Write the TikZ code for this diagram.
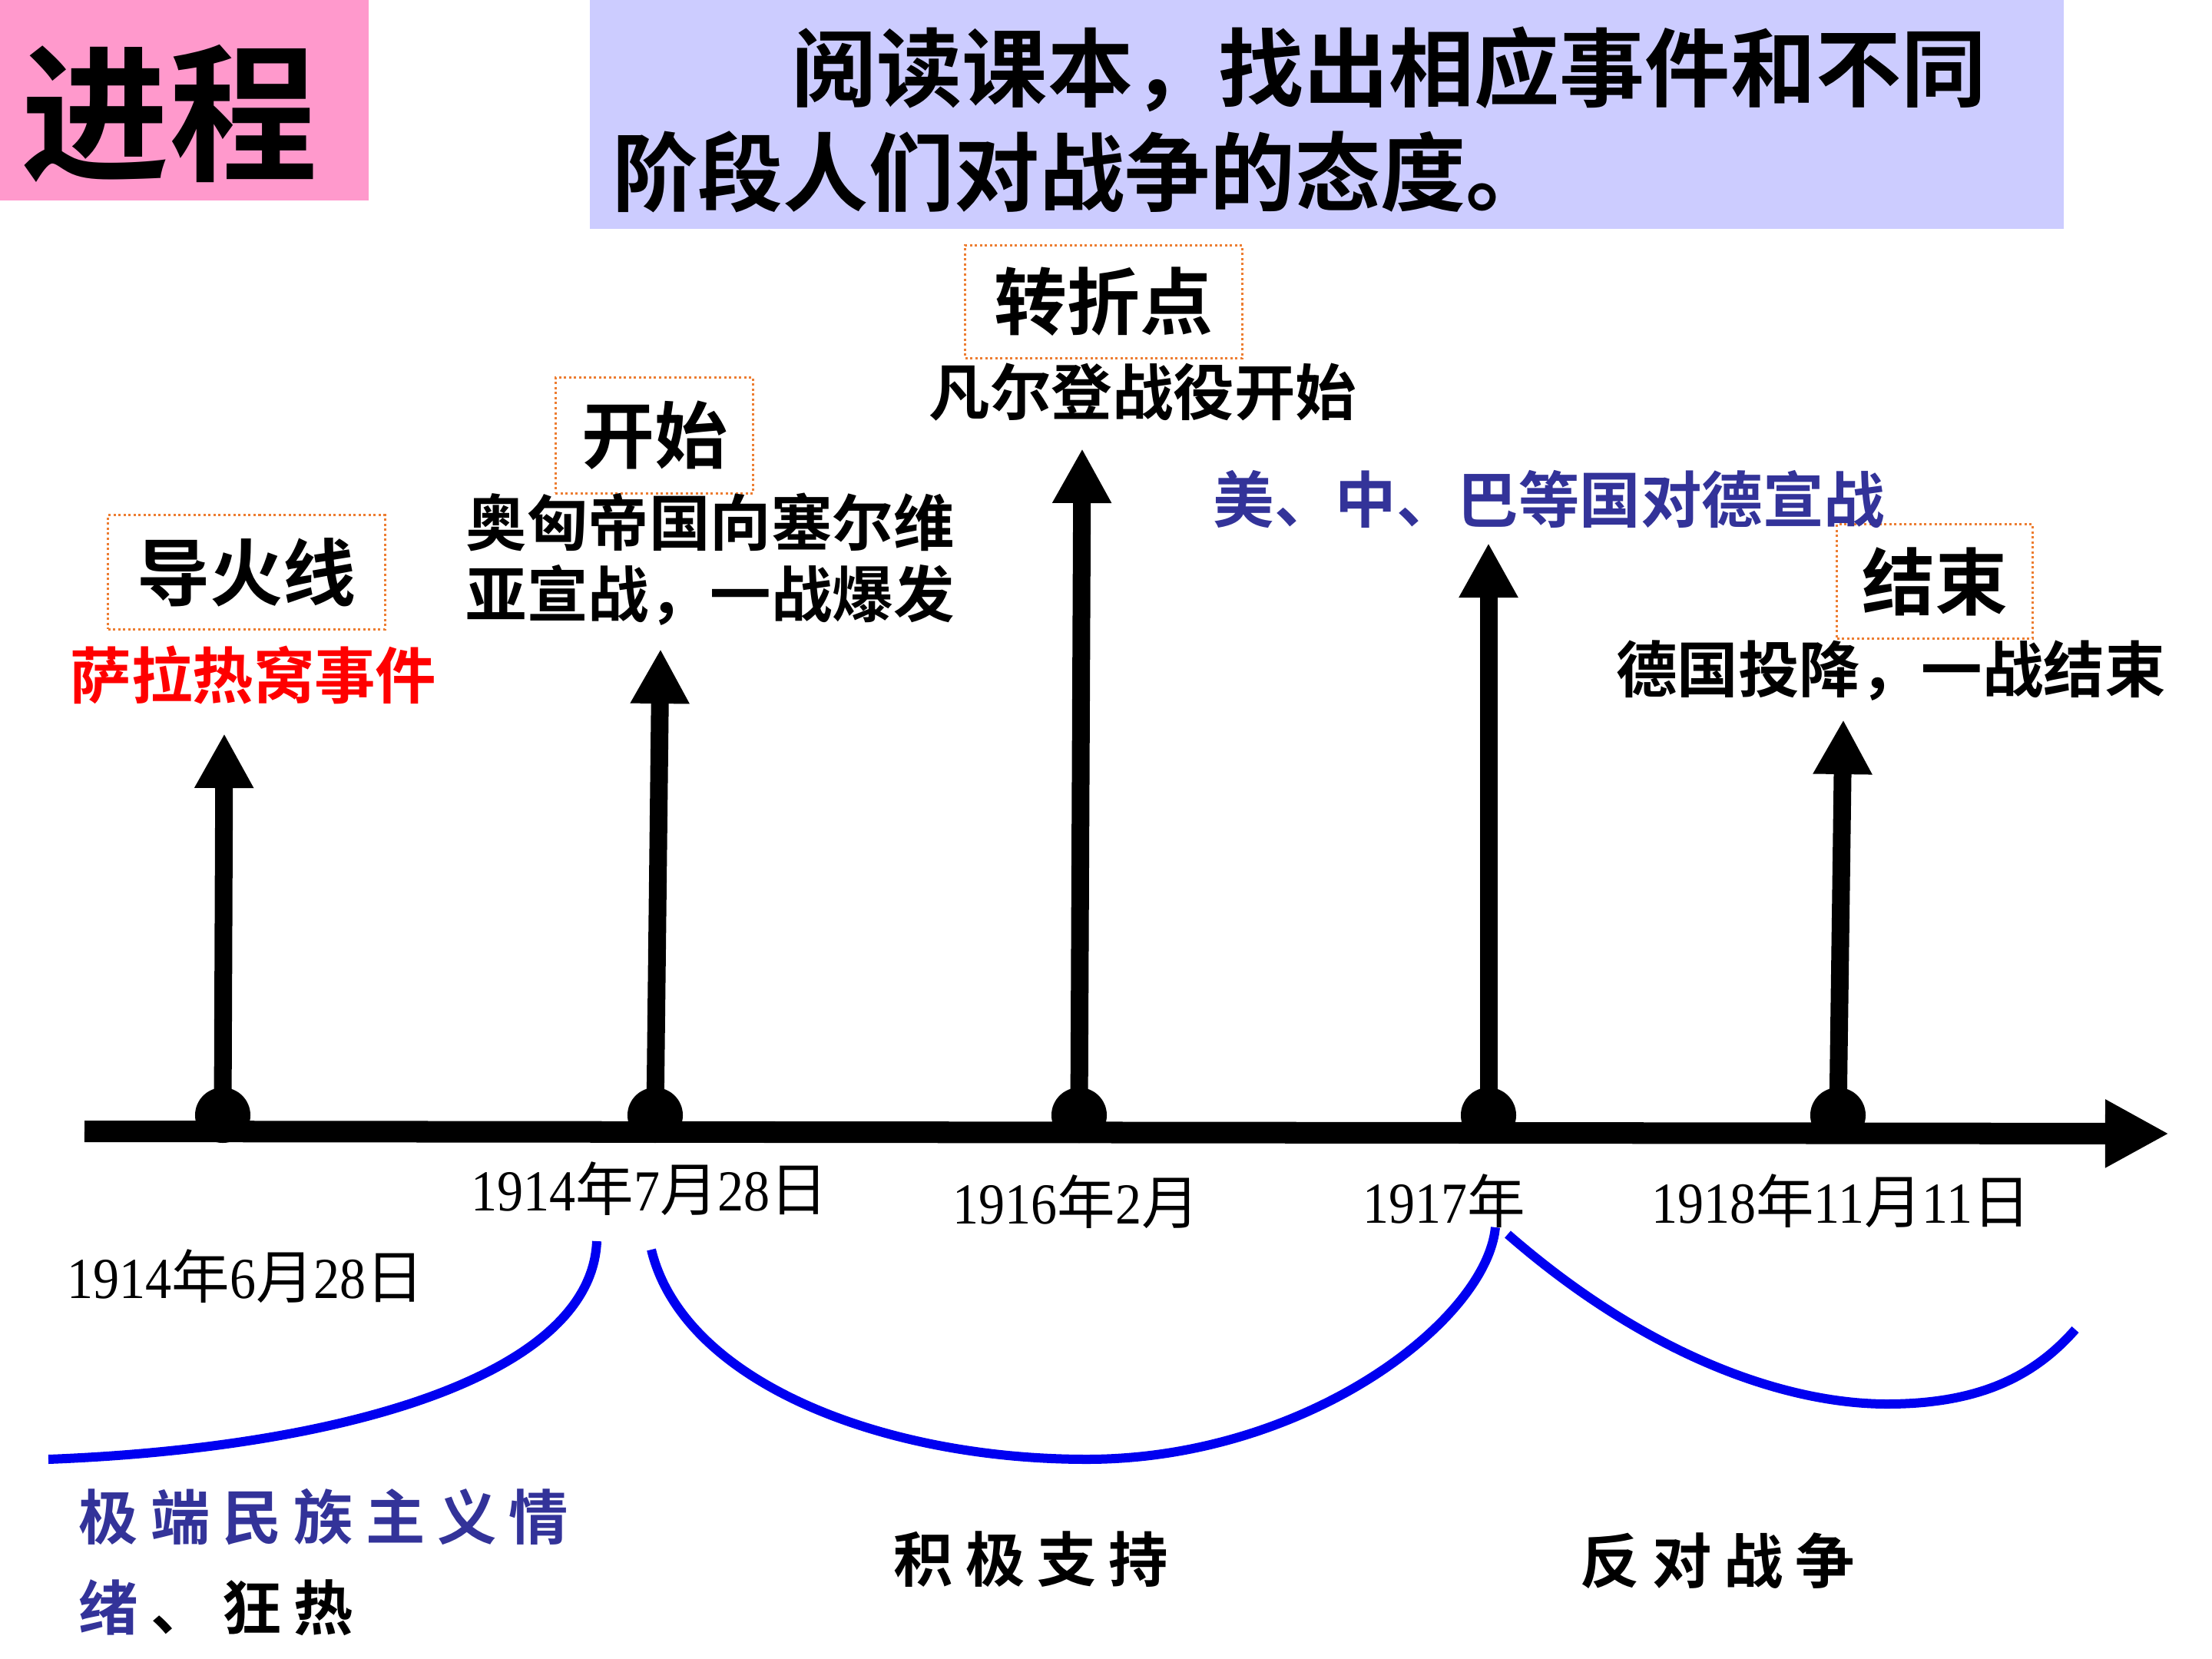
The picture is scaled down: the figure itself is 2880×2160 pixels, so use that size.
\documentclass[tikz,border=0pt]{standalone}
\usepackage{fontspec}
\setmainfont{Noto Sans CJK SC}[BoldFont=Noto Sans CJK SC Bold]
\newfontfamily\dnum{Liberation Serif}[FakeStretch=0.9]
\usetikzlibrary{arrows.meta}
\definecolor{pinkbg}{RGB}{255,153,204}
\definecolor{lavbg}{RGB}{204,204,255}
\definecolor{dotorange}{RGB}{237,125,49}
\definecolor{navy}{RGB}{51,51,153}
\definecolor{curveblue}{RGB}{0,0,240}
\newcommand\fs[1]{\fontsize{#1pt}{#1pt}\selectfont}
\newcommand\dd[1]{{\dnum #1}}
\newcommand\gp{\hspace{0.16cm}}
\begin{document}
\begin{tikzpicture}[x=0.01cm,y=-0.01cm,
  tagbox/.style={draw=dotorange, line width=0.03cm, dash pattern=on 0.03cm off 0.035cm, inner sep=0, font=\fs{27}\bfseries},
  ev/.style={inner sep=0, font=\fs{22.6}\bfseries},
  datelbl/.style={inner sep=0, font=\fs{21.5}},
  dot/.style={circle, fill=black, inner sep=0, minimum size=0.72cm},
  axisline/.style={line width=0.28cm, -{Triangle[length=0.83cm,width=0.83cm]}},
  varrow/.style={line width=0.23cm, -{Triangle[length=0.71cm,width=0.72cm]}},
  attitude/.style={line width=0.12cm, draw=curveblue},
  callig/.style={inner sep=0, font=\fs{22}\bfseries, anchor=west}
]
\useasboundingbox (0,0) rectangle (2880,2160);
\fill[white] (0,0) rectangle (2880,2160);

% header boxes
\fill[pinkbg] (0,0) rectangle (480,261);
\node[inner sep=0, font=\fs{55}\bfseries] (title) at (221,148) {进程};
\fill[lavbg] (768,0) rectangle (2687,298);
\node[anchor=west, inner sep=0, font=\fs{31.6}\bfseries] (q1) at (1030,90) {阅读课本，找出相应事件和不同};
\node[anchor=west, inner sep=0, font=\fs{31.6}\bfseries] (q2) at (797,224) {阶段人们对战争的态度。};

% timeline axis
\coordinate (ax0) at (110,1473);
\coordinate (ax1) at (2824,1476);
\draw[axisline] (ax0) -- (ax1);

% points on axis
\node[dot] (p1) at (290,1452) {};
\node[dot] (p2) at (853,1452) {};
\node[dot] (p3) at (1405,1452) {};
\node[dot] (p4) at (1938,1452) {};
\node[dot] (p5) at (2393,1452) {};
\coordinate (t1) at (292,955);
\coordinate (t2) at (860,845);
\coordinate (t3) at (1409,584);
\coordinate (t4) at (1938,707);
\coordinate (t5) at (2400,937);
\draw[varrow] (p1.center) -- (t1);
\draw[varrow] (p2.center) -- (t2);
\draw[varrow] (p3.center) -- (t3);
\draw[varrow] (p4.center) -- (t4);
\draw[varrow] (p5.center) -- (t5);

% tag boxes
\node[tagbox, minimum width=3.6cm, minimum height=1.48cm] (fuse) at (321,745) {导火线\hspace{0.18cm}};
\node[tagbox, minimum width=2.57cm, minimum height=1.5cm] (start) at (852,567) {开始};
\node[tagbox, minimum width=3.6cm, minimum height=1.47cm] (turn) at (1437,393) {转折点\hspace{0.18cm}};
\node[tagbox, minimum width=2.54cm, minimum height=1.48cm] (endt) at (2519,757) {结束};

% events
\node[ev, text=red] (sarajevo) at (330,879) {萨拉热窝事件};
\node[ev, anchor=west] (aus1) at (606,680) {奥匈帝国向塞尔维};
\node[ev, anchor=west] (aus2) at (606,775) {亚宣战，一战爆发};
\node[ev] (verdun) at (1488,511) {凡尔登战役开始};
\node[ev, text=navy] (usdecl) at (2017,650) {美、中、巴等国对德宣战};
\node[ev] (germany) at (2462,873) {德国投降，一战结束};

% dates
\node[datelbl] (d1) at (320,1662) {\dd{1914}年\dd{6}月\dd{28}日};
\node[datelbl] (d2) at (846,1548) {\dd{1914}年\dd{7}月\dd{28}日};
\node[datelbl] (d3) at (1401,1565) {\dd{1916}年\dd{2}月};
\node[datelbl] (d4) at (1880,1564) {\dd{1917}年};
\node[datelbl] (d5) at (2397,1564) {\dd{1918}年\dd{11}月\dd{11}日};

% attitude curves
\coordinate (c1a) at (63,1900);
\coordinate (c1b) at (777,1616);
\draw[attitude] (c1a) .. controls (450,1885) and (770,1790) .. (c1b);
\coordinate (c2a) at (848,1627);
\coordinate (c2m) at (1415,1900);
\coordinate (c2b) at (1947,1598);
\draw[attitude] (c2a) .. controls (890,1800) and (1150,1900) .. (c2m)
  .. controls (1700,1900) and (1935,1720) .. (c2b);
\coordinate (c3a) at (1963,1607);
\coordinate (c3m) at (2457,1828);
\coordinate (c3b) at (2702,1731);
\draw[attitude] (c3a) .. controls (2150,1770) and (2330,1828) .. (c3m)
  .. controls (2580,1828) and (2650,1790) .. (c3b);

% attitudes
\node[callig, text=navy] (ex1) at (102,1975) {极\gp 端\gp 民\gp 族\gp 主\gp 义\gp 情};
\node[callig] (ex2) at (102,2093) {\textcolor{navy}{绪}\gp 、\gp 狂\gp 热};
\node[callig] (support) at (1163,2030) {积\gp 极\gp 支\gp 持};
\node[callig] (oppose) at (2057,2032) {反\gp 对\gp 战\gp 争};
\end{tikzpicture}
\end{document}
